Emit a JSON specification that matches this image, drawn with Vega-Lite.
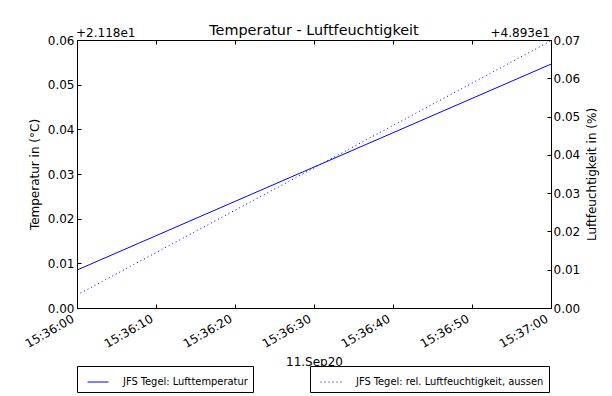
{
  "$schema": "https://vega.github.io/schema/vega-lite/v6.json",
  "width": 474,
  "height": 268,
  "autosize": "none",
  "padding": {"left": 77, "top": 40, "right": 61, "bottom": 88},
  "background": "white",
  "title": {
    "text": "Temperatur - Luftfeuchtigkeit",
    "font": "DejaVu Sans",
    "fontSize": 14.4,
    "fontWeight": "normal",
    "color": "black",
    "anchor": "middle",
    "offset": -11
  },
  "data": {
    "values": [
      {"time": "2020-09-11T15:36:00", "temperatur": 21.1885, "feuchte": 48.9334},
      {"time": "2020-09-11T15:37:00", "temperatur": 21.2346, "feuchte": 48.9998}
    ]
  },
  "layer": [
    {
      "mark": {"type": "line", "strokeWidth": 1, "clip": true},
      "encoding": {
        "x": {
          "field": "time",
          "type": "temporal",
          "scale": {"domain": ["2020-09-11T15:36:00", "2020-09-11T15:37:00"]},
          "axis": {
            "orient": "bottom",
            "title": "11.Sep20",
            "format": "%H:%M:%S",
            "values": [
              {"year": 2020, "month": 9, "date": 11, "hours": 15, "minutes": 36, "seconds": 0},
              {"year": 2020, "month": 9, "date": 11, "hours": 15, "minutes": 36, "seconds": 10},
              {"year": 2020, "month": 9, "date": 11, "hours": 15, "minutes": 36, "seconds": 20},
              {"year": 2020, "month": 9, "date": 11, "hours": 15, "minutes": 36, "seconds": 30},
              {"year": 2020, "month": 9, "date": 11, "hours": 15, "minutes": 36, "seconds": 40},
              {"year": 2020, "month": 9, "date": 11, "hours": 15, "minutes": 36, "seconds": 50},
              {"year": 2020, "month": 9, "date": 11, "hours": 15, "minutes": 37, "seconds": 0}
            ],
            "labelAngle": -30,
            "labelAlign": "right",
            "labelBaseline": "top",
            "labelPadding": 5,
            "labelOffset": -7,
            "labelFlush": false,
            "labelOverlap": false,
            "titlePadding": 7
          }
        },
        "y": {
          "field": "temperatur",
          "type": "quantitative",
          "scale": {"domain": [21.18, 21.24], "nice": false, "zero": false},
          "axis": {
            "orient": "left",
            "title": "Temperatur in (°C)",
            "values": [21.18, 21.19, 21.2, 21.21, 21.22, 21.23, 21.24],
            "labelExpr": "format(datum.value - 21.18, '.2f')",
            "labelPadding": 3,
            "titlePadding": 6
          }
        },
        "color": {
          "datum": "JFS Tegel: Lufttemperatur",
          "type": "nominal",
          "scale": {"range": ["#0000ff"]},
          "legend": {
            "title": null,
            "orient": "none",
            "legendX": 0,
            "legendY": 326,
            "symbolType": "stroke",
            "symbolSize": 441,
            "symbolStrokeWidth": 1,
            "symbolOffset": 5,
            "labelOffset": 14,
            "padding": 5
          }
        }
      }
    },
    {
      "mark": {"type": "line", "strokeWidth": 1, "color": "#0000ff", "strokeDash": [1, 3], "clip": true},
      "encoding": {
        "x": {
          "field": "time",
          "type": "temporal",
          "axis": {
            "orient": "top",
            "title": null,
            "labels": false,
            "values": [
              {"year": 2020, "month": 9, "date": 11, "hours": 15, "minutes": 36, "seconds": 0},
              {"year": 2020, "month": 9, "date": 11, "hours": 15, "minutes": 36, "seconds": 10},
              {"year": 2020, "month": 9, "date": 11, "hours": 15, "minutes": 36, "seconds": 20},
              {"year": 2020, "month": 9, "date": 11, "hours": 15, "minutes": 36, "seconds": 30},
              {"year": 2020, "month": 9, "date": 11, "hours": 15, "minutes": 36, "seconds": 40},
              {"year": 2020, "month": 9, "date": 11, "hours": 15, "minutes": 36, "seconds": 50},
              {"year": 2020, "month": 9, "date": 11, "hours": 15, "minutes": 37, "seconds": 0}
            ]
          }
        },
        "y": {
          "field": "feuchte",
          "type": "quantitative",
          "scale": {"domain": [48.93, 49.0], "nice": false, "zero": false},
          "axis": {
            "orient": "right",
            "title": "Luftfeuchtigkeit in (%)",
            "titleAngle": 270,
            "titleBaseline": "top",
            "values": [48.93, 48.94, 48.95, 48.96, 48.97, 48.98, 48.99, 49.0],
            "labelExpr": "format(datum.value - 48.93, '.2f')",
            "labelPadding": 2,
            "titlePadding": 7
          }
        },
        "strokeDash": {
          "datum": "JFS Tegel: rel. Luftfeuchtigkeit, aussen",
          "type": "nominal",
          "scale": {"range": [[1, 3]]},
          "legend": {
            "title": null,
            "orient": "none",
            "legendX": 233,
            "legendY": 326,
            "symbolType": "stroke",
            "symbolSize": 441,
            "symbolStrokeWidth": 1,
            "symbolStrokeColor": "#0000ff",
            "symbolOffset": 5,
            "labelOffset": 14,
            "padding": 5
          }
        }
      }
    },
    {
      "data": {"values": [{"offset": "+2.118e1", "time": "2020-09-11T15:36:00", "wert": 21.24}]},
      "mark": {"type": "text", "align": "left", "baseline": "alphabetic", "dx": -1, "dy": -3, "font": "DejaVu Sans", "fontSize": 12, "color": "black"},
      "encoding": {
        "x": {"field": "time", "type": "temporal", "axis": null},
        "y": {"field": "wert", "type": "quantitative", "scale": {"domain": [21.18, 21.24], "nice": false, "zero": false}, "axis": null},
        "text": {"field": "offset"}
      }
    },
    {
      "data": {"values": [{"offset": "+4.893e1", "time": "2020-09-11T15:37:00", "wert": 49.0}]},
      "mark": {"type": "text", "align": "right", "baseline": "alphabetic", "dx": -1, "dy": -3, "font": "DejaVu Sans", "fontSize": 12, "color": "black"},
      "encoding": {
        "x": {"field": "time", "type": "temporal", "axis": null},
        "y": {"field": "wert", "type": "quantitative", "scale": {"domain": [48.93, 49.0], "nice": false, "zero": false}, "axis": null},
        "text": {"field": "offset"}
      }
    }
  ],
  "resolve": {"scale": {"y": "independent"}},
  "config": {
    "view": {"stroke": "black", "strokeWidth": 1},
    "axis": {
      "domain": false,
      "grid": false,
      "ticks": true,
      "tickSize": 4,
      "offset": -4,
      "tickColor": "black",
      "tickWidth": 1,
      "labelFont": "DejaVu Sans",
      "labelFontSize": 12,
      "labelColor": "black",
      "titleFont": "DejaVu Sans",
      "titleFontSize": 12,
      "titleFontWeight": "normal",
      "titleColor": "black"
    },
    "legend": {
      "strokeColor": "black",
      "strokeWidth": 1,
      "cornerRadius": 0,
      "fillColor": "white",
      "labelFont": "DejaVu Sans Condensed",
      "labelFontSize": 11,
      "labelColor": "black",
      "labelLimit": 400
    }
  }
}
